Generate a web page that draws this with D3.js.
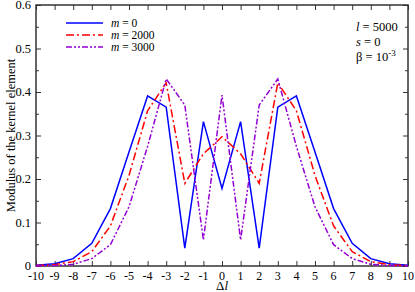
<!DOCTYPE html>
<html>
<head>
<meta charset="utf-8">
<script src="https://cdn.jsdelivr.net/npm/d3@7"></script>
<style>
  body { margin: 0; background: #fff; }
  #chart text { font-family: "Liberation Serif", "Times New Roman", "DejaVu Serif", serif; }
</style>
</head>
<body>
<svg id="chart" width="415" height="292"></svg>
<script>
// Delta l values
const dl = d3.range(-10, 11);

// Modulus of the kernel element
const m0 = [0.002, 0.005, 0.017, 0.052, 0.132, 0.262, 0.391, 0.365, 0.041, 0.332, 0.178,
            0.332, 0.041, 0.365, 0.391, 0.262, 0.132, 0.052, 0.017, 0.005, 0.002];
const m2000 = [0.001, 0.003, 0.010, 0.033, 0.092, 0.208, 0.357, 0.421, 0.190, 0.258, 0.297,
               0.258, 0.190, 0.421, 0.357, 0.208, 0.092, 0.033, 0.010, 0.003, 0.001];
const m3000 = [0.000, 0.001, 0.004, 0.017, 0.049, 0.136, 0.275, 0.430, 0.370, 0.060, 0.393,
               0.060, 0.370, 0.430, 0.275, 0.136, 0.049, 0.017, 0.004, 0.001, 0.000];

const seriesNames = ["0", "2000", "3000"];
const seriesColors = ["#0000ff", "#ff0000", "#9400d3"];
const seriesDash = [null, "8,3,2,3", "6,2,2,2,2,2"];
const yTicks = [0, 0.1, 0.2, 0.3, 0.4, 0.5, 0.6];

const svg = d3.select("#chart");
const margin = { top: 5, right: 7, bottom: 26, left: 36 };
const width = 415, height = 292;
const w = width - margin.left - margin.right;
const h = height - margin.top - margin.bottom;

const g = svg.append("g").attr("transform", `translate(${margin.left},${margin.top})`);

const x = d3.scaleLinear().domain([-10, 10]).range([0, w]);
const y = d3.scaleLinear().domain([0, 0.6]).range([h, 0]);

const axisColor = "#333";

// ticks (inward) on all four sides
function tickAxis(axis, transform) {
  const a = g.append("g").attr("transform", transform).call(axis);
  a.select(".domain").remove();
  a.selectAll("line").attr("stroke", axisColor).attr("stroke-width", 1);
  return a;
}

tickAxis(d3.axisBottom(x).tickValues(dl).tickSize(-5).tickFormat(""), `translate(0,${h})`);
tickAxis(d3.axisTop(x).tickValues(dl).tickSize(-5).tickFormat(""), "translate(0,0)");
tickAxis(d3.axisLeft(y).tickValues(yTicks).tickSize(-5).tickFormat(""), "translate(0,0)");
tickAxis(d3.axisRight(y).tickValues(yTicks).tickSize(-5).tickFormat(""), `translate(${w},0)`);
const minorY = d3.range(0.05, 0.6, 0.1);
tickAxis(d3.axisLeft(y).tickValues(minorY).tickSize(-3).tickFormat(""), "translate(0,0)");
tickAxis(d3.axisRight(y).tickValues(minorY).tickSize(-3).tickFormat(""), `translate(${w},0)`);

// tick labels
g.selectAll(".xlab").data(dl).join("text")
  .attr("x", d => x(d)).attr("y", h + 13.5)
  .attr("text-anchor", "middle").style("font-size", "12px")
  .text(d => d);
g.selectAll(".ylab").data(yTicks).join("text")
  .attr("x", -5).attr("y", d => y(d)).attr("dy", "0.33em")
  .attr("text-anchor", "end").style("font-size", "12.5px")
  .text(d => d === 0 ? "0" : d3.format(".1f")(d));

// frame
g.append("rect").attr("width", w).attr("height", h)
  .attr("fill", "none").attr("stroke", axisColor).attr("stroke-width", 1.5);

// axis titles
const xt = svg.append("text").attr("x", margin.left + w / 2).attr("y", 290)
  .attr("text-anchor", "middle").style("font-size", "13px");
xt.append("tspan").text("Δ");
xt.append("tspan").style("font-style", "italic").text("l");

svg.append("text")
  .attr("transform", `translate(15,${margin.top + h / 2}) rotate(-90)`)
  .attr("text-anchor", "middle").style("font-size", "12.5px")
  .text("Modulus of the kernel element");

// lines
const line = d3.line().x((d, i) => x(dl[i])).y(d => y(d));
[m0, m2000, m3000].forEach((s, i) => {
  g.append("path").datum(s)
    .attr("fill", "none")
    .attr("stroke", seriesColors[i])
    .attr("stroke-width", 1.5)
    .attr("stroke-dasharray", seriesDash[i])
    .attr("d", line);
});

// legend
const legend = svg.append("g");
seriesNames.forEach((name, i) => {
  const ly = 23 + i * 12;
  legend.append("line").attr("x1", 66).attr("x2", 103).attr("y1", ly).attr("y2", ly)
    .attr("stroke", seriesColors[i]).attr("stroke-width", 1.5)
    .attr("stroke-dasharray", seriesDash[i]);
  const t = legend.append("text").attr("x", 111).attr("y", ly).attr("dy", "0.35em")
    .style("font-size", "11.5px");
  t.append("tspan").style("font-style", "italic").text("m");
  t.append("tspan").text(" = " + name);
});

// parameters
const ann = svg.append("g").style("font-size", "12.5px");
const a1 = ann.append("text").attr("x", 356).attr("y", 31);
a1.append("tspan").style("font-style", "italic").text("l");
a1.append("tspan").text(" = 5000");
const a2 = ann.append("text").attr("x", 356).attr("y", 46);
a2.append("tspan").style("font-style", "italic").text("s");
a2.append("tspan").text(" = 0");
const a3 = ann.append("text").attr("x", 356).attr("y", 61);
a3.append("tspan").text("β = 10");
a3.append("tspan").attr("dy", -5).style("font-size", "9px").text("-3");
</script>
</body>
</html>
